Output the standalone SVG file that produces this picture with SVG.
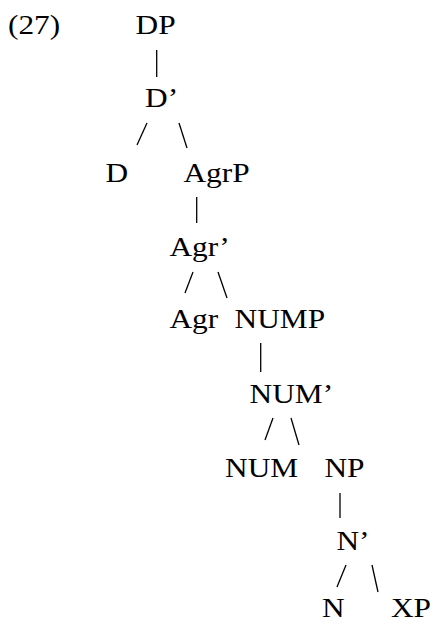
<svg xmlns="http://www.w3.org/2000/svg" width="434" height="624" viewBox="0 0 434 624">
<style>
.t text{font-family:'Liberation Serif','Times New Roman',Times,serif;font-size:28px;fill:#000}
.c line{stroke:#000;stroke-width:1.3;fill:none}
</style>
<rect width="434" height="624" fill="#fff"/>
<g id="connectors" class="c">
<line x1="156.7" y1="50" x2="156.7" y2="77"/>
<line x1="147" y1="123" x2="137" y2="145"/>
<line x1="179" y1="123" x2="187" y2="148"/>
<line x1="196.7" y1="197" x2="196.7" y2="223"/>
<line x1="193" y1="272" x2="185" y2="293"/>
<line x1="218" y1="272" x2="227" y2="298"/>
<line x1="260.7" y1="343" x2="260.7" y2="372"/>
<line x1="273" y1="418" x2="265" y2="440"/>
<line x1="291" y1="418" x2="299" y2="445"/>
<line x1="340" y1="493" x2="340" y2="518"/>
<line x1="346" y1="565" x2="337" y2="587"/>
<line x1="372" y1="565" x2="378" y2="592"/>
</g>
<g class="t" transform="scale(1.12 1)">
<g id="label27"><text x="7.1" y="34.5">(27)</text></g>
<g id="DP"><text x="121" y="34.3">DP</text></g>
<g id="Dbar"><text x="129.5" y="107">D’</text></g>
<g id="D"><text x="94.2" y="182">D</text></g>
<g id="AgrP"><text x="163.8" y="182">AgrP</text></g>
<g id="Agrbar"><text x="151.3" y="256">Agr’</text></g>
<g id="Agr"><text x="151.3" y="328">Agr</text></g>
<g id="NUMP"><text x="209.4" y="328">NUMP</text></g>
<g id="NUMbar"><text x="222.8" y="403">NUM’</text></g>
<g id="NUM"><text x="200.9" y="477">NUM</text></g>
<g id="NP"><text x="289.7" y="477">NP</text></g>
<g id="Nbar"><text x="300.4" y="550">N’</text></g>
<g id="N"><text x="287.5" y="617.5">N</text></g>
<g id="XP"><text x="349.1" y="617.5">XP</text></g>
</g>
</svg>
